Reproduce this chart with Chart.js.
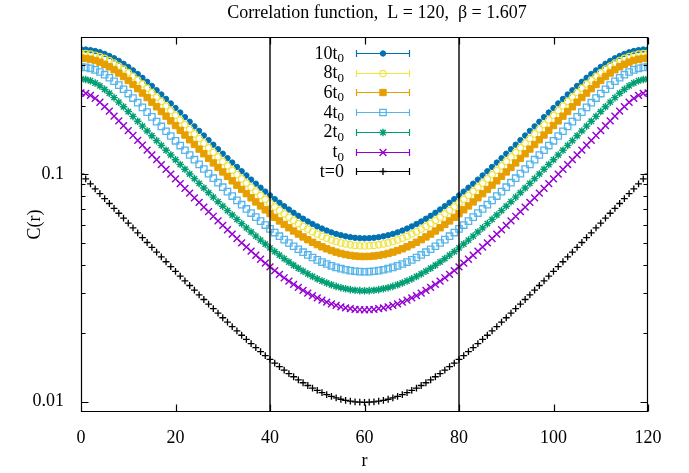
<!DOCTYPE html>
<html><head><meta charset="utf-8">
<script src="https://cdn.jsdelivr.net/npm/chart.js@4/dist/chart.umd.min.js"></script>
<style>html,body{margin:0;padding:0;background:#fff}canvas{display:block}</style>
</head><body>
<canvas id="c" width="689" height="473"></canvas>
<script>
// ---- data ----
const rValues=[0,1,2,3,4,5,6,7,8,9,10,11,12,13,14,15,16,17,18,19,20,21,22,23,24,25,26,27,28,29,30,31,32,33,34,35,36,37,38,39,40,41,42,43,44,45,46,47,48,49,50,51,52,53,54,55,56,57,58,59,60,61,62,63,64,65,66,67,68,69,70,71,72,73,74,75,76,77,78,79,80,81,82,83,84,85,86,87,88,89,90,91,92,93,94,95,96,97,98,99,100,101,102,103,104,105,106,107,108,109,110,111,112,113,114,115,116,117,118,119,120];

const c10t0=[0.3530,0.3524,0.3504,0.3471,0.3426,0.3370,0.3302,0.3226,0.3142,0.3050,
0.2954,0.2854,0.2751,0.2647,0.2543,0.2439,0.2336,0.2236,0.2138,0.2043,
0.1950,0.1863,0.1778,0.1697,0.1620,0.15473,0.14764,0.14091,0.13454,0.12851,
0.12280,0.11739,0.11228,0.10744,0.10288,0.09858,0.09452,0.09069,0.08710,0.08372,
0.08055,0.07758,0.07481,0.07222,0.06981,0.06758,0.06552,0.06362,0.06188,0.06030,
0.05886,0.05758,0.05643,0.05543,0.05457,0.05384,0.05325,0.05279,0.05246,0.05227,
0.05220,
0.05227,0.05246,0.05279,0.05325,0.05384,0.05457,0.05543,0.05643,0.05758,0.05886,
0.06030,0.06188,0.06362,0.06552,0.06758,0.06981,0.07222,0.07481,0.07758,0.08055,
0.08372,0.08710,0.09069,0.09452,0.09858,0.10288,0.10744,0.11228,0.11739,0.12280,
0.12851,0.13454,0.14091,0.14764,0.15473,0.1620,0.1697,0.1778,0.1863,0.1950,
0.2043,0.2138,0.2236,0.2336,0.2439,0.2543,0.2647,0.2751,0.2854,0.2954,
0.3050,0.3142,0.3226,0.3302,0.3370,0.3426,0.3471,0.3504,0.3524,0.3530];

const c8t0=[0.3391,0.3384,0.3363,0.3328,0.3281,0.3221,0.3150,0.3071,0.2983,0.2890,
0.2792,0.2691,0.2588,0.2485,0.2382,0.2280,0.2180,0.2083,0.1989,0.1899,
0.1812,0.1728,0.1649,0.15739,0.15009,0.14317,0.13661,0.13039,0.12449,0.11891,
0.11362,0.10862,0.10389,0.09942,0.09519,0.09121,0.08746,0.08392,0.08059,0.07746,
0.07453,0.07178,0.06922,0.06682,0.06460,0.06253,0.06062,0.05887,0.05726,0.05579,
0.05446,0.05327,0.05222,0.05129,0.05049,0.04982,0.04927,0.04884,0.04854,0.04836,
0.04830,
0.04836,0.04854,0.04884,0.04927,0.04982,0.05049,0.05129,0.05222,0.05327,0.05446,
0.05579,0.05726,0.05887,0.06062,0.06253,0.06460,0.06682,0.06922,0.07178,0.07453,
0.07746,0.08059,0.08392,0.08746,0.09121,0.09519,0.09942,0.10389,0.10862,0.11362,
0.11891,0.12449,0.13039,0.13661,0.14317,0.15009,0.15739,0.1649,0.1728,0.1812,
0.1899,0.1989,0.2083,0.2180,0.2280,0.2382,0.2485,0.2588,0.2691,0.2792,
0.2890,0.2983,0.3071,0.3150,0.3221,0.3281,0.3328,0.3363,0.3384,0.3391];

const c6t0=[0.3226,0.3218,0.3195,0.3155,0.3101,0.3035,0.2958,0.2871,0.2778,0.2680,
0.2577,0.2474,0.2371,0.2268,0.2168,0.2069,0.1974,0.1883,0.1796,0.1712,
0.16328,0.15561,0.14833,0.14142,0.13486,0.12865,0.12275,0.11716,0.11186,0.10684,
0.10210,0.09760,0.09335,0.08933,0.08554,0.08196,0.07858,0.07540,0.07241,0.06960,
0.06697,0.06450,0.06220,0.06005,0.05804,0.05619,0.05447,0.05290,0.05145,0.05013,
0.04894,0.04787,0.04692,0.04609,0.04537,0.04476,0.04427,0.04389,0.04362,0.04345,
0.04340,
0.04345,0.04362,0.04389,0.04427,0.04476,0.04537,0.04609,0.04692,0.04787,0.04894,
0.05013,0.05145,0.05290,0.05447,0.05619,0.05804,0.06005,0.06220,0.06450,0.06697,
0.06960,0.07241,0.07540,0.07858,0.08196,0.08554,0.08933,0.09335,0.09760,0.10210,
0.10684,0.11186,0.11716,0.12275,0.12865,0.13486,0.14142,0.14833,0.15561,0.16328,
0.1712,0.1796,0.1883,0.1974,0.2069,0.2168,0.2268,0.2371,0.2474,0.2577,
0.2680,0.2778,0.2871,0.2958,0.3035,0.3101,0.3155,0.3195,0.3218,0.3226];

const c4t0=[0.2950,0.2941,0.2913,0.2868,0.2807,0.2732,0.2648,0.2556,0.2458,0.2358,
0.2257,0.2156,0.2058,0.1963,0.1871,0.1783,0.16993,0.16184,0.15417,0.14688,
0.13995,0.13338,0.12714,0.12122,0.11560,0.11027,0.10521,0.10042,0.09588,0.09158,
0.08751,0.08366,0.08001,0.07657,0.07332,0.07025,0.06736,0.06463,0.06207,0.05966,
0.05740,0.05529,0.05331,0.05147,0.04975,0.04816,0.04669,0.04534,0.04410,0.04297,
0.04195,0.04103,0.04022,0.03950,0.03889,0.03837,0.03795,0.03762,0.03739,0.03725,
0.03720,
0.03725,0.03739,0.03762,0.03795,0.03837,0.03889,0.03950,0.04022,0.04103,0.04195,
0.04297,0.04410,0.04534,0.04669,0.04816,0.04975,0.05147,0.05331,0.05529,0.05740,
0.05966,0.06207,0.06463,0.06736,0.07025,0.07332,0.07657,0.08001,0.08366,0.08751,
0.09158,0.09588,0.10042,0.10521,0.11027,0.11560,0.12122,0.12714,0.13338,0.13995,
0.14688,0.15417,0.16184,0.16993,0.1783,0.1871,0.1963,0.2058,0.2156,0.2257,
0.2358,0.2458,0.2556,0.2648,0.2732,0.2807,0.2868,0.2913,0.2941,0.2950];

const c2t0=[0.2614,0.2603,0.2568,0.2512,0.2439,0.2354,0.2263,0.2166,0.2070,0.1974,
0.1881,0.1791,0.17060,0.16242,0.15464,0.14725,0.14023,0.13357,0.12723,0.12121,
0.11550,0.11007,0.10492,0.10004,0.09540,0.09100,0.08683,0.08288,0.07913,0.07558,
0.07222,0.06904,0.06603,0.06319,0.06051,0.05797,0.05559,0.05334,0.05122,0.04924,
0.04737,0.04563,0.04400,0.04247,0.04106,0.03975,0.03853,0.03742,0.03639,0.03546,
0.03462,0.03386,0.03319,0.03260,0.03209,0.03166,0.03132,0.03105,0.03085,0.03074,
0.03070,
0.03074,0.03085,0.03105,0.03132,0.03166,0.03209,0.03260,0.03319,0.03386,0.03462,
0.03546,0.03639,0.03742,0.03853,0.03975,0.04106,0.04247,0.04400,0.04563,0.04737,
0.04924,0.05122,0.05334,0.05559,0.05797,0.06051,0.06319,0.06603,0.06904,0.07222,
0.07558,0.07913,0.08288,0.08683,0.09100,0.09540,0.10004,0.10492,0.11007,0.11550,
0.12121,0.12723,0.13357,0.14023,0.14725,0.15464,0.16242,0.17060,0.1791,0.1881,
0.1974,0.2070,0.2166,0.2263,0.2354,0.2439,0.2512,0.2568,0.2603,0.2614];

const c1t0=[0.2274,0.2259,0.2215,0.2148,0.2067,0.1978,0.1888,0.1798,0.1713,0.16300,
0.15515,0.14768,0.14059,0.13385,0.12744,0.12135,0.11557,0.11007,0.10485,0.09989,
0.09518,0.09071,0.08647,0.08244,0.07862,0.07499,0.07156,0.06830,0.06521,0.06228,
0.05952,0.05690,0.05442,0.05208,0.04986,0.04778,0.04581,0.04396,0.04221,0.04058,
0.03904,0.03760,0.03626,0.03500,0.03384,0.03276,0.03176,0.03084,0.02999,0.02922,
0.02853,0.02791,0.02735,0.02687,0.02645,0.02609,0.02581,0.02559,0.02543,0.02533,
0.02530,
0.02533,0.02543,0.02559,0.02581,0.02609,0.02645,0.02687,0.02735,0.02791,0.02853,
0.02922,0.02999,0.03084,0.03176,0.03276,0.03384,0.03500,0.03626,0.03760,0.03904,
0.04058,0.04221,0.04396,0.04581,0.04778,0.04986,0.05208,0.05442,0.05690,0.05952,
0.06228,0.06521,0.06830,0.07156,0.07499,0.07862,0.08244,0.08647,0.09071,0.09518,
0.09989,0.10485,0.11007,0.11557,0.12135,0.12744,0.13385,0.14059,0.14768,0.15515,
0.16300,0.1713,0.1798,0.1888,0.1978,0.2067,0.2148,0.2215,0.2259,0.2274];

const cT0=[0.09997,0.09512,0.09051,0.08612,0.08195,0.07798,0.07421,0.07063,0.06722,0.06398,
0.06089,0.05796,0.05518,0.05254,0.05002,0.04763,0.04536,0.04320,0.04115,0.03921,
0.03736,0.03560,0.03394,0.03236,0.03086,0.02943,0.02809,0.02681,0.02559,0.02445,
0.02336,0.02233,0.02136,0.02044,0.01957,0.01875,0.01798,0.01725,0.01657,0.01593,
0.01532,0.01476,0.01423,0.01374,0.01328,0.01286,0.01246,0.01210,0.01177,0.01147,
0.01120,0.01095,0.01074,0.01054,0.01038,0.01024,0.01013,0.01004,0.00998,0.00994,
0.00993,
0.00994,0.00998,0.01004,0.01013,0.01024,0.01038,0.01054,0.01074,0.01095,0.01120,
0.01147,0.01177,0.01210,0.01246,0.01286,0.01328,0.01374,0.01423,0.01476,0.01532,
0.01593,0.01657,0.01725,0.01798,0.01875,0.01957,0.02044,0.02136,0.02233,0.02336,
0.02445,0.02559,0.02681,0.02809,0.02943,0.03086,0.03236,0.03394,0.03560,0.03736,
0.03921,0.04115,0.04320,0.04536,0.04763,0.05002,0.05254,0.05518,0.05796,0.06089,
0.06398,0.06722,0.07063,0.07421,0.07798,0.08195,0.08612,0.09051,0.09512,0.09997];

const legendMain=['10t','8t','6t','4t','2t','t','t=0'];
const legendSub=['0','0','0','0','0','0',''];
const xTickValues=[0,20,40,60,80,100,120];
const yTickValues=[0.01,0.1];
const yMinorTicks=[0.02,0.03,0.04,0.05,0.06,0.07,0.08,0.09,0.2,0.3];
const markerLines=[40,80];
const titleText='Correlation function,  L = 120,  \u03b2 = 1.607';

// ---- styling ----
const FONT="'Liberation Serif','Times New Roman',serif";
const seriesValues=[c10t0,c8t0,c6t0,c4t0,c2t0,c1t0,cT0];
const styles=[
 {color:'#0072b2',pointStyle:'circle',radius:2.7,fill:true,bw:1},
 {color:'#f0e442',pointStyle:'circle',radius:3.2,fill:false,bw:1.2},
 {color:'#e69f00',pointStyle:'rect',radius:4.5,fill:true,bw:1},
 {color:'#56b4e9',pointStyle:'rect',radius:4.5,fill:false,bw:1.3},
 {color:'#009e73',pointStyle:'star',radius:3.8,fill:false,bw:1.4},
 {color:'#9400d3',pointStyle:'crossRot',radius:4.8,fill:false,bw:1.4},
 {color:'#000000',pointStyle:'cross',radius:3.4,fill:false,bw:1.3}
];

const datasets=seriesValues.map((vals,i)=>({
  label:legendMain[i]+legendSub[i],
  data:rValues.map((r,j)=>({x:r,y:vals[j]})),
  showLine:false,
  pointStyle:styles[i].pointStyle,
  pointRadius:styles[i].radius,
  pointBorderWidth:styles[i].bw,
  borderColor:styles[i].color,
  pointBorderColor:styles[i].color,
  pointBackgroundColor:styles[i].fill?styles[i].color:'rgba(0,0,0,0)',
  backgroundColor:styles[i].fill?styles[i].color:'rgba(0,0,0,0)',
  order:10+(seriesValues.length-i)
}));
markerLines.forEach(v=>{
  datasets.push({type:'line',label:'',data:[{x:v,y:0.009},{x:v,y:0.4}],
    borderColor:'#000',borderWidth:1.4,pointRadius:0,showLine:true,fill:false,order:0});
});

function drawMarker(ctx,st,x,y){
  ctx.save();
  ctx.strokeStyle=st.color;
  ctx.fillStyle=st.fill?st.color:'rgba(0,0,0,0)';
  ctx.lineWidth=st.bw;
  Chart.helpers.drawPoint(ctx,{pointStyle:st.pointStyle,rotation:0,radius:st.radius,borderWidth:st.bw},x,y);
  ctx.restore();
}

const framePlugin={
  id:'frame',
  afterDraw(chart){
    const ctx=chart.ctx, a=chart.chartArea;
    const xs=chart.scales.x, ys=chart.scales.y;
    ctx.save();
    ctx.strokeStyle='#000'; ctx.lineWidth=1.2;
    const L=Math.round(a.left)+0.5, R=Math.round(a.right)-0.5, T=Math.round(a.top)+0.5, B=Math.round(a.bottom)-0.5;
    ctx.beginPath();
    ctx.rect(L,T,R-L,B-T);
    xTickValues.forEach(v=>{
      const px=Math.round(xs.getPixelForValue(v))+0.5;
      ctx.moveTo(px,B); ctx.lineTo(px,B-7);
      ctx.moveTo(px,T); ctx.lineTo(px,T+7);
    });
    yTickValues.forEach(v=>{
      const py=Math.round(ys.getPixelForValue(v))+0.5;
      ctx.moveTo(L,py); ctx.lineTo(L+7,py);
      ctx.moveTo(R,py); ctx.lineTo(R-7,py);
    });
    yMinorTicks.forEach(v=>{
      const py=Math.round(ys.getPixelForValue(v))+0.5;
      ctx.moveTo(L,py); ctx.lineTo(L+4,py);
      ctx.moveTo(R,py); ctx.lineTo(R-4,py);
    });
    ctx.stroke();

    // title
    ctx.fillStyle='#000';
    ctx.font="18px "+FONT;
    ctx.textAlign='center'; ctx.textBaseline='middle';
    ctx.fillText(titleText,377,13);

    // legend (gnuplot style: text right-aligned, sample with error bar caps)
    const textRight=344, x0=356, x1=410, xm=383;
    legendMain.forEach((t,i)=>{
      const y=53+i*19.7;
      const st=styles[i];
      ctx.font="13px "+FONT;
      const wSub=legendSub[i]?ctx.measureText(legendSub[i]).width:0;
      ctx.font="18px "+FONT;
      const wMain=ctx.measureText(t).width;
      ctx.textAlign='left'; ctx.textBaseline='alphabetic';
      ctx.fillStyle='#000';
      ctx.fillText(t,textRight-wSub-wMain,y+5.5);
      if(legendSub[i]){ctx.font="13px "+FONT; ctx.fillText(legendSub[i],textRight-wSub,y+9);}
      ctx.strokeStyle=st.color; ctx.lineWidth=1.2;
      const yy=Math.round(y)+0.5;
      ctx.beginPath();
      ctx.moveTo(x0,yy); ctx.lineTo(x1,yy);
      ctx.moveTo(x0+0.5,yy-3.5); ctx.lineTo(x0+0.5,yy+3.5);
      ctx.moveTo(x1-0.5,yy-3.5); ctx.lineTo(x1-0.5,yy+3.5);
      ctx.stroke();
      drawMarker(ctx,st,xm,yy);
    });
    ctx.restore();
  }
};

Chart.defaults.font.family=FONT;
Chart.defaults.color='#000';

new Chart(document.getElementById('c').getContext('2d'),{
  type:'scatter',
  data:{datasets:datasets},
  options:{
    responsive:false,animation:false,devicePixelRatio:1,events:[],
    layout:{padding:{top:37,right:41,left:0,bottom:0}},
    plugins:{legend:{display:false},tooltip:{enabled:false},title:{display:false}},
    scales:{
      x:{type:'linear',min:0,max:120,
        afterBuildTicks:s=>{s.ticks=xTickValues.map(v=>({value:v}));},
        afterFit:s=>{s.height=61;},
        grid:{display:false},border:{display:false},
        ticks:{font:{family:FONT,size:18},color:'#000',padding:7,maxRotation:0,autoSkip:false},
        title:{display:true,text:'r',font:{family:FONT,size:18},color:'#000',padding:{top:0,bottom:1}}
      },
      y:{type:'logarithmic',min:0.009,max:0.4,
        afterBuildTicks:s=>{s.ticks=yTickValues.map(v=>({value:v}));},
        afterFit:s=>{s.width=81;},
        grid:{display:false},border:{display:false},
        ticks:{font:{family:FONT,size:18},color:'#000',padding:9,autoSkip:false,callback:v=>String(v)},
        title:{display:true,text:'C(r)',font:{family:FONT,size:18},color:'#000',padding:{top:24,bottom:0}}
      }
    }
  },
  plugins:[framePlugin]
});
</script>
</body></html>
